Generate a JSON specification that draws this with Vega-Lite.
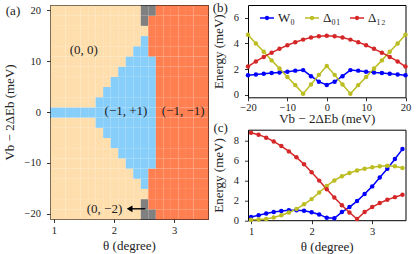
{
"$schema": "https://vega.github.io/schema/vega-lite/v6.json",
"padding": {"left": 2, "top": 1, "right": 0, "bottom": 0},
"config": {
  "font": "Liberation Serif",
  "view": {"stroke": "#000", "strokeWidth": 1},
  "axis": {"domain": false, "grid": false, "tickColor": "#000", "tickSize": 3.5, "tickWidth": 0.8, "labelFont": "Liberation Serif", "labelFontSize": 10.5, "labelColor": "#222", "titleFont": "Liberation Serif", "titleFontSize": 13, "titleFontWeight": "normal", "titleColor": "#222", "labelFlush": false, "labelOverlap": false},
  "axisX": {"labelPadding": 3, "titlePadding": 3},
  "axisY": {"labelPadding": 6, "titlePadding": 8},
  "legend": {"labelFont": "Liberation Serif"},
  "text": {"font": "Liberation Serif", "fontSize": 13, "color": "#222"}
},
"datasets": {
  "phase": [
{"t":1,"v":-20,"p":"N"},{"t":1,"v":-18,"p":"N"},{"t":1,"v":-16,"p":"N"},{"t":1,"v":-14,"p":"N"},{"t":1,"v":-12,"p":"N"},{"t":1,"v":-10,"p":"N"},{"t":1,"v":-8,"p":"N"},{"t":1,"v":-6,"p":"N"},{"t":1,"v":-4,"p":"N"},{"t":1,"v":-2,"p":"N"},{"t":1,"v":0,"p":"B"},{"t":1,"v":2,"p":"N"},{"t":1,"v":4,"p":"N"},{"t":1,"v":6,"p":"N"},{"t":1,"v":8,"p":"N"},{"t":1,"v":10,"p":"N"},{"t":1,"v":12,"p":"N"},{"t":1,"v":14,"p":"N"},{"t":1,"v":16,"p":"N"},{"t":1,"v":18,"p":"N"},{"t":1,"v":20,"p":"N"},
{"t":1.125,"v":-20,"p":"N"},{"t":1.125,"v":-18,"p":"N"},{"t":1.125,"v":-16,"p":"N"},{"t":1.125,"v":-14,"p":"N"},{"t":1.125,"v":-12,"p":"N"},{"t":1.125,"v":-10,"p":"N"},{"t":1.125,"v":-8,"p":"N"},{"t":1.125,"v":-6,"p":"N"},{"t":1.125,"v":-4,"p":"N"},{"t":1.125,"v":-2,"p":"N"},{"t":1.125,"v":0,"p":"B"},{"t":1.125,"v":2,"p":"N"},{"t":1.125,"v":4,"p":"N"},{"t":1.125,"v":6,"p":"N"},{"t":1.125,"v":8,"p":"N"},{"t":1.125,"v":10,"p":"N"},{"t":1.125,"v":12,"p":"N"},{"t":1.125,"v":14,"p":"N"},{"t":1.125,"v":16,"p":"N"},{"t":1.125,"v":18,"p":"N"},{"t":1.125,"v":20,"p":"N"},
{"t":1.25,"v":-20,"p":"N"},{"t":1.25,"v":-18,"p":"N"},{"t":1.25,"v":-16,"p":"N"},{"t":1.25,"v":-14,"p":"N"},{"t":1.25,"v":-12,"p":"N"},{"t":1.25,"v":-10,"p":"N"},{"t":1.25,"v":-8,"p":"N"},{"t":1.25,"v":-6,"p":"N"},{"t":1.25,"v":-4,"p":"N"},{"t":1.25,"v":-2,"p":"N"},{"t":1.25,"v":0,"p":"B"},{"t":1.25,"v":2,"p":"N"},{"t":1.25,"v":4,"p":"N"},{"t":1.25,"v":6,"p":"N"},{"t":1.25,"v":8,"p":"N"},{"t":1.25,"v":10,"p":"N"},{"t":1.25,"v":12,"p":"N"},{"t":1.25,"v":14,"p":"N"},{"t":1.25,"v":16,"p":"N"},{"t":1.25,"v":18,"p":"N"},{"t":1.25,"v":20,"p":"N"},
{"t":1.375,"v":-20,"p":"N"},{"t":1.375,"v":-18,"p":"N"},{"t":1.375,"v":-16,"p":"N"},{"t":1.375,"v":-14,"p":"N"},{"t":1.375,"v":-12,"p":"N"},{"t":1.375,"v":-10,"p":"N"},{"t":1.375,"v":-8,"p":"N"},{"t":1.375,"v":-6,"p":"N"},{"t":1.375,"v":-4,"p":"N"},{"t":1.375,"v":-2,"p":"N"},{"t":1.375,"v":0,"p":"B"},{"t":1.375,"v":2,"p":"N"},{"t":1.375,"v":4,"p":"N"},{"t":1.375,"v":6,"p":"N"},{"t":1.375,"v":8,"p":"N"},{"t":1.375,"v":10,"p":"N"},{"t":1.375,"v":12,"p":"N"},{"t":1.375,"v":14,"p":"N"},{"t":1.375,"v":16,"p":"N"},{"t":1.375,"v":18,"p":"N"},{"t":1.375,"v":20,"p":"N"},
{"t":1.5,"v":-20,"p":"N"},{"t":1.5,"v":-18,"p":"N"},{"t":1.5,"v":-16,"p":"N"},{"t":1.5,"v":-14,"p":"N"},{"t":1.5,"v":-12,"p":"N"},{"t":1.5,"v":-10,"p":"N"},{"t":1.5,"v":-8,"p":"N"},{"t":1.5,"v":-6,"p":"N"},{"t":1.5,"v":-4,"p":"N"},{"t":1.5,"v":-2,"p":"N"},{"t":1.5,"v":0,"p":"B"},{"t":1.5,"v":2,"p":"N"},{"t":1.5,"v":4,"p":"N"},{"t":1.5,"v":6,"p":"N"},{"t":1.5,"v":8,"p":"N"},{"t":1.5,"v":10,"p":"N"},{"t":1.5,"v":12,"p":"N"},{"t":1.5,"v":14,"p":"N"},{"t":1.5,"v":16,"p":"N"},{"t":1.5,"v":18,"p":"N"},{"t":1.5,"v":20,"p":"N"},
{"t":1.625,"v":-20,"p":"N"},{"t":1.625,"v":-18,"p":"N"},{"t":1.625,"v":-16,"p":"N"},{"t":1.625,"v":-14,"p":"N"},{"t":1.625,"v":-12,"p":"N"},{"t":1.625,"v":-10,"p":"N"},{"t":1.625,"v":-8,"p":"N"},{"t":1.625,"v":-6,"p":"N"},{"t":1.625,"v":-4,"p":"N"},{"t":1.625,"v":-2,"p":"N"},{"t":1.625,"v":0,"p":"B"},{"t":1.625,"v":2,"p":"N"},{"t":1.625,"v":4,"p":"N"},{"t":1.625,"v":6,"p":"N"},{"t":1.625,"v":8,"p":"N"},{"t":1.625,"v":10,"p":"N"},{"t":1.625,"v":12,"p":"N"},{"t":1.625,"v":14,"p":"N"},{"t":1.625,"v":16,"p":"N"},{"t":1.625,"v":18,"p":"N"},{"t":1.625,"v":20,"p":"N"},
{"t":1.75,"v":-20,"p":"N"},{"t":1.75,"v":-18,"p":"N"},{"t":1.75,"v":-16,"p":"N"},{"t":1.75,"v":-14,"p":"N"},{"t":1.75,"v":-12,"p":"N"},{"t":1.75,"v":-10,"p":"N"},{"t":1.75,"v":-8,"p":"N"},{"t":1.75,"v":-6,"p":"N"},{"t":1.75,"v":-4,"p":"N"},{"t":1.75,"v":-2,"p":"B"},{"t":1.75,"v":0,"p":"B"},{"t":1.75,"v":2,"p":"B"},{"t":1.75,"v":4,"p":"N"},{"t":1.75,"v":6,"p":"N"},{"t":1.75,"v":8,"p":"N"},{"t":1.75,"v":10,"p":"N"},{"t":1.75,"v":12,"p":"N"},{"t":1.75,"v":14,"p":"N"},{"t":1.75,"v":16,"p":"N"},{"t":1.75,"v":18,"p":"N"},{"t":1.75,"v":20,"p":"N"},
{"t":1.875,"v":-20,"p":"N"},{"t":1.875,"v":-18,"p":"N"},{"t":1.875,"v":-16,"p":"N"},{"t":1.875,"v":-14,"p":"N"},{"t":1.875,"v":-12,"p":"N"},{"t":1.875,"v":-10,"p":"N"},{"t":1.875,"v":-8,"p":"N"},{"t":1.875,"v":-6,"p":"N"},{"t":1.875,"v":-4,"p":"B"},{"t":1.875,"v":-2,"p":"B"},{"t":1.875,"v":0,"p":"B"},{"t":1.875,"v":2,"p":"B"},{"t":1.875,"v":4,"p":"B"},{"t":1.875,"v":6,"p":"N"},{"t":1.875,"v":8,"p":"N"},{"t":1.875,"v":10,"p":"N"},{"t":1.875,"v":12,"p":"N"},{"t":1.875,"v":14,"p":"N"},{"t":1.875,"v":16,"p":"N"},{"t":1.875,"v":18,"p":"N"},{"t":1.875,"v":20,"p":"N"},
{"t":2,"v":-20,"p":"N"},{"t":2,"v":-18,"p":"N"},{"t":2,"v":-16,"p":"N"},{"t":2,"v":-14,"p":"N"},{"t":2,"v":-12,"p":"N"},{"t":2,"v":-10,"p":"N"},{"t":2,"v":-8,"p":"N"},{"t":2,"v":-6,"p":"B"},{"t":2,"v":-4,"p":"B"},{"t":2,"v":-2,"p":"B"},{"t":2,"v":0,"p":"B"},{"t":2,"v":2,"p":"B"},{"t":2,"v":4,"p":"B"},{"t":2,"v":6,"p":"B"},{"t":2,"v":8,"p":"N"},{"t":2,"v":10,"p":"N"},{"t":2,"v":12,"p":"N"},{"t":2,"v":14,"p":"N"},{"t":2,"v":16,"p":"N"},{"t":2,"v":18,"p":"N"},{"t":2,"v":20,"p":"N"},
{"t":2.125,"v":-20,"p":"N"},{"t":2.125,"v":-18,"p":"N"},{"t":2.125,"v":-16,"p":"N"},{"t":2.125,"v":-14,"p":"N"},{"t":2.125,"v":-12,"p":"N"},{"t":2.125,"v":-10,"p":"N"},{"t":2.125,"v":-8,"p":"B"},{"t":2.125,"v":-6,"p":"B"},{"t":2.125,"v":-4,"p":"B"},{"t":2.125,"v":-2,"p":"B"},{"t":2.125,"v":0,"p":"B"},{"t":2.125,"v":2,"p":"B"},{"t":2.125,"v":4,"p":"B"},{"t":2.125,"v":6,"p":"B"},{"t":2.125,"v":8,"p":"B"},{"t":2.125,"v":10,"p":"N"},{"t":2.125,"v":12,"p":"N"},{"t":2.125,"v":14,"p":"N"},{"t":2.125,"v":16,"p":"N"},{"t":2.125,"v":18,"p":"N"},{"t":2.125,"v":20,"p":"N"},
{"t":2.25,"v":-20,"p":"N"},{"t":2.25,"v":-18,"p":"N"},{"t":2.25,"v":-16,"p":"N"},{"t":2.25,"v":-14,"p":"N"},{"t":2.25,"v":-12,"p":"N"},{"t":2.25,"v":-10,"p":"B"},{"t":2.25,"v":-8,"p":"B"},{"t":2.25,"v":-6,"p":"B"},{"t":2.25,"v":-4,"p":"B"},{"t":2.25,"v":-2,"p":"B"},{"t":2.25,"v":0,"p":"B"},{"t":2.25,"v":2,"p":"B"},{"t":2.25,"v":4,"p":"B"},{"t":2.25,"v":6,"p":"B"},{"t":2.25,"v":8,"p":"B"},{"t":2.25,"v":10,"p":"B"},{"t":2.25,"v":12,"p":"N"},{"t":2.25,"v":14,"p":"N"},{"t":2.25,"v":16,"p":"N"},{"t":2.25,"v":18,"p":"N"},{"t":2.25,"v":20,"p":"N"},
{"t":2.375,"v":-20,"p":"N"},{"t":2.375,"v":-18,"p":"N"},{"t":2.375,"v":-16,"p":"N"},{"t":2.375,"v":-14,"p":"N"},{"t":2.375,"v":-12,"p":"B"},{"t":2.375,"v":-10,"p":"B"},{"t":2.375,"v":-8,"p":"B"},{"t":2.375,"v":-6,"p":"B"},{"t":2.375,"v":-4,"p":"B"},{"t":2.375,"v":-2,"p":"B"},{"t":2.375,"v":0,"p":"B"},{"t":2.375,"v":2,"p":"B"},{"t":2.375,"v":4,"p":"B"},{"t":2.375,"v":6,"p":"B"},{"t":2.375,"v":8,"p":"B"},{"t":2.375,"v":10,"p":"B"},{"t":2.375,"v":12,"p":"B"},{"t":2.375,"v":14,"p":"N"},{"t":2.375,"v":16,"p":"N"},{"t":2.375,"v":18,"p":"N"},{"t":2.375,"v":20,"p":"N"},
{"t":2.5,"v":-20,"p":"G"},{"t":2.5,"v":-18,"p":"G"},{"t":2.5,"v":-16,"p":"N"},{"t":2.5,"v":-14,"p":"B"},{"t":2.5,"v":-12,"p":"B"},{"t":2.5,"v":-10,"p":"B"},{"t":2.5,"v":-8,"p":"B"},{"t":2.5,"v":-6,"p":"B"},{"t":2.5,"v":-4,"p":"B"},{"t":2.5,"v":-2,"p":"B"},{"t":2.5,"v":0,"p":"B"},{"t":2.5,"v":2,"p":"B"},{"t":2.5,"v":4,"p":"B"},{"t":2.5,"v":6,"p":"B"},{"t":2.5,"v":8,"p":"B"},{"t":2.5,"v":10,"p":"B"},{"t":2.5,"v":12,"p":"B"},{"t":2.5,"v":14,"p":"B"},{"t":2.5,"v":16,"p":"N"},{"t":2.5,"v":18,"p":"G"},{"t":2.5,"v":20,"p":"G"},
{"t":2.625,"v":-20,"p":"G"},{"t":2.625,"v":-18,"p":"R"},{"t":2.625,"v":-16,"p":"R"},{"t":2.625,"v":-14,"p":"R"},{"t":2.625,"v":-12,"p":"R"},{"t":2.625,"v":-10,"p":"B"},{"t":2.625,"v":-8,"p":"B"},{"t":2.625,"v":-6,"p":"B"},{"t":2.625,"v":-4,"p":"B"},{"t":2.625,"v":-2,"p":"B"},{"t":2.625,"v":0,"p":"B"},{"t":2.625,"v":2,"p":"B"},{"t":2.625,"v":4,"p":"B"},{"t":2.625,"v":6,"p":"B"},{"t":2.625,"v":8,"p":"B"},{"t":2.625,"v":10,"p":"B"},{"t":2.625,"v":12,"p":"R"},{"t":2.625,"v":14,"p":"R"},{"t":2.625,"v":16,"p":"R"},{"t":2.625,"v":18,"p":"R"},{"t":2.625,"v":20,"p":"G"},
{"t":2.75,"v":-20,"p":"R"},{"t":2.75,"v":-18,"p":"R"},{"t":2.75,"v":-16,"p":"R"},{"t":2.75,"v":-14,"p":"R"},{"t":2.75,"v":-12,"p":"R"},{"t":2.75,"v":-10,"p":"R"},{"t":2.75,"v":-8,"p":"R"},{"t":2.75,"v":-6,"p":"R"},{"t":2.75,"v":-4,"p":"R"},{"t":2.75,"v":-2,"p":"R"},{"t":2.75,"v":0,"p":"R"},{"t":2.75,"v":2,"p":"R"},{"t":2.75,"v":4,"p":"R"},{"t":2.75,"v":6,"p":"R"},{"t":2.75,"v":8,"p":"R"},{"t":2.75,"v":10,"p":"R"},{"t":2.75,"v":12,"p":"R"},{"t":2.75,"v":14,"p":"R"},{"t":2.75,"v":16,"p":"R"},{"t":2.75,"v":18,"p":"R"},{"t":2.75,"v":20,"p":"R"},
{"t":2.875,"v":-20,"p":"R"},{"t":2.875,"v":-18,"p":"R"},{"t":2.875,"v":-16,"p":"R"},{"t":2.875,"v":-14,"p":"R"},{"t":2.875,"v":-12,"p":"R"},{"t":2.875,"v":-10,"p":"R"},{"t":2.875,"v":-8,"p":"R"},{"t":2.875,"v":-6,"p":"R"},{"t":2.875,"v":-4,"p":"R"},{"t":2.875,"v":-2,"p":"R"},{"t":2.875,"v":0,"p":"R"},{"t":2.875,"v":2,"p":"R"},{"t":2.875,"v":4,"p":"R"},{"t":2.875,"v":6,"p":"R"},{"t":2.875,"v":8,"p":"R"},{"t":2.875,"v":10,"p":"R"},{"t":2.875,"v":12,"p":"R"},{"t":2.875,"v":14,"p":"R"},{"t":2.875,"v":16,"p":"R"},{"t":2.875,"v":18,"p":"R"},{"t":2.875,"v":20,"p":"R"},
{"t":3,"v":-20,"p":"R"},{"t":3,"v":-18,"p":"R"},{"t":3,"v":-16,"p":"R"},{"t":3,"v":-14,"p":"R"},{"t":3,"v":-12,"p":"R"},{"t":3,"v":-10,"p":"R"},{"t":3,"v":-8,"p":"R"},{"t":3,"v":-6,"p":"R"},{"t":3,"v":-4,"p":"R"},{"t":3,"v":-2,"p":"R"},{"t":3,"v":0,"p":"R"},{"t":3,"v":2,"p":"R"},{"t":3,"v":4,"p":"R"},{"t":3,"v":6,"p":"R"},{"t":3,"v":8,"p":"R"},{"t":3,"v":10,"p":"R"},{"t":3,"v":12,"p":"R"},{"t":3,"v":14,"p":"R"},{"t":3,"v":16,"p":"R"},{"t":3,"v":18,"p":"R"},{"t":3,"v":20,"p":"R"},
{"t":3.125,"v":-20,"p":"R"},{"t":3.125,"v":-18,"p":"R"},{"t":3.125,"v":-16,"p":"R"},{"t":3.125,"v":-14,"p":"R"},{"t":3.125,"v":-12,"p":"R"},{"t":3.125,"v":-10,"p":"R"},{"t":3.125,"v":-8,"p":"R"},{"t":3.125,"v":-6,"p":"R"},{"t":3.125,"v":-4,"p":"R"},{"t":3.125,"v":-2,"p":"R"},{"t":3.125,"v":0,"p":"R"},{"t":3.125,"v":2,"p":"R"},{"t":3.125,"v":4,"p":"R"},{"t":3.125,"v":6,"p":"R"},{"t":3.125,"v":8,"p":"R"},{"t":3.125,"v":10,"p":"R"},{"t":3.125,"v":12,"p":"R"},{"t":3.125,"v":14,"p":"R"},{"t":3.125,"v":16,"p":"R"},{"t":3.125,"v":18,"p":"R"},{"t":3.125,"v":20,"p":"R"},
{"t":3.25,"v":-20,"p":"R"},{"t":3.25,"v":-18,"p":"R"},{"t":3.25,"v":-16,"p":"R"},{"t":3.25,"v":-14,"p":"R"},{"t":3.25,"v":-12,"p":"R"},{"t":3.25,"v":-10,"p":"R"},{"t":3.25,"v":-8,"p":"R"},{"t":3.25,"v":-6,"p":"R"},{"t":3.25,"v":-4,"p":"R"},{"t":3.25,"v":-2,"p":"R"},{"t":3.25,"v":0,"p":"R"},{"t":3.25,"v":2,"p":"R"},{"t":3.25,"v":4,"p":"R"},{"t":3.25,"v":6,"p":"R"},{"t":3.25,"v":8,"p":"R"},{"t":3.25,"v":10,"p":"R"},{"t":3.25,"v":12,"p":"R"},{"t":3.25,"v":14,"p":"R"},{"t":3.25,"v":16,"p":"R"},{"t":3.25,"v":18,"p":"R"},{"t":3.25,"v":20,"p":"R"},
{"t":3.375,"v":-20,"p":"R"},{"t":3.375,"v":-18,"p":"R"},{"t":3.375,"v":-16,"p":"R"},{"t":3.375,"v":-14,"p":"R"},{"t":3.375,"v":-12,"p":"R"},{"t":3.375,"v":-10,"p":"R"},{"t":3.375,"v":-8,"p":"R"},{"t":3.375,"v":-6,"p":"R"},{"t":3.375,"v":-4,"p":"R"},{"t":3.375,"v":-2,"p":"R"},{"t":3.375,"v":0,"p":"R"},{"t":3.375,"v":2,"p":"R"},{"t":3.375,"v":4,"p":"R"},{"t":3.375,"v":6,"p":"R"},{"t":3.375,"v":8,"p":"R"},{"t":3.375,"v":10,"p":"R"},{"t":3.375,"v":12,"p":"R"},{"t":3.375,"v":14,"p":"R"},{"t":3.375,"v":16,"p":"R"},{"t":3.375,"v":18,"p":"R"},{"t":3.375,"v":20,"p":"R"},
{"t":3.5,"v":-20,"p":"R"},{"t":3.5,"v":-18,"p":"R"},{"t":3.5,"v":-16,"p":"R"},{"t":3.5,"v":-14,"p":"R"},{"t":3.5,"v":-12,"p":"R"},{"t":3.5,"v":-10,"p":"R"},{"t":3.5,"v":-8,"p":"R"},{"t":3.5,"v":-6,"p":"R"},{"t":3.5,"v":-4,"p":"R"},{"t":3.5,"v":-2,"p":"R"},{"t":3.5,"v":0,"p":"R"},{"t":3.5,"v":2,"p":"R"},{"t":3.5,"v":4,"p":"R"},{"t":3.5,"v":6,"p":"R"},{"t":3.5,"v":8,"p":"R"},{"t":3.5,"v":10,"p":"R"},{"t":3.5,"v":12,"p":"R"},{"t":3.5,"v":14,"p":"R"},{"t":3.5,"v":16,"p":"R"},{"t":3.5,"v":18,"p":"R"},{"t":3.5,"v":20,"p":"R"}
  ],
  "bdata": [
{"x":-20,"s":"W₀","e":1.52},{"x":-18,"s":"W₀","e":1.58},{"x":-16,"s":"W₀","e":1.64},{"x":-14,"s":"W₀","e":1.69},{"x":-12,"s":"W₀","e":1.74},{"x":-10,"s":"W₀","e":1.8},{"x":-8,"s":"W₀","e":1.88},{"x":-6,"s":"W₀","e":1.92},{"x":-4,"s":"W₀","e":1.45},{"x":-2,"s":"W₀","e":1.02},{"x":0,"s":"W₀","e":0.76},{"x":2,"s":"W₀","e":1.02},{"x":4,"s":"W₀","e":1.45},{"x":6,"s":"W₀","e":1.92},{"x":8,"s":"W₀","e":1.88},{"x":10,"s":"W₀","e":1.8},{"x":12,"s":"W₀","e":1.74},{"x":14,"s":"W₀","e":1.69},{"x":16,"s":"W₀","e":1.64},{"x":18,"s":"W₀","e":1.58},{"x":20,"s":"W₀","e":1.52},
{"x":-20,"s":"Δ₀₁","e":4.68},{"x":-18,"s":"Δ₀₁","e":4.0},{"x":-16,"s":"Δ₀₁","e":3.35},{"x":-14,"s":"Δ₀₁","e":2.68},{"x":-12,"s":"Δ₀₁","e":2.04},{"x":-10,"s":"Δ₀₁","e":1.38},{"x":-8,"s":"Δ₀₁","e":0.75},{"x":-6,"s":"Δ₀₁","e":0.08},{"x":-4,"s":"Δ₀₁","e":0.8},{"x":-2,"s":"Δ₀₁","e":1.55},{"x":0,"s":"Δ₀₁","e":2.25},{"x":2,"s":"Δ₀₁","e":1.55},{"x":4,"s":"Δ₀₁","e":0.8},{"x":6,"s":"Δ₀₁","e":0.08},{"x":8,"s":"Δ₀₁","e":0.75},{"x":10,"s":"Δ₀₁","e":1.38},{"x":12,"s":"Δ₀₁","e":2.04},{"x":14,"s":"Δ₀₁","e":2.68},{"x":16,"s":"Δ₀₁","e":3.35},{"x":18,"s":"Δ₀₁","e":4.0},{"x":20,"s":"Δ₀₁","e":4.68},
{"x":-20,"s":"Δ₁₂","e":2.2},{"x":-18,"s":"Δ₁₂","e":2.6},{"x":-16,"s":"Δ₁₂","e":2.95},{"x":-14,"s":"Δ₁₂","e":3.28},{"x":-12,"s":"Δ₁₂","e":3.58},{"x":-10,"s":"Δ₁₂","e":3.86},{"x":-8,"s":"Δ₁₂","e":4.1},{"x":-6,"s":"Δ₁₂","e":4.3},{"x":-4,"s":"Δ₁₂","e":4.46},{"x":-2,"s":"Δ₁₂","e":4.57},{"x":0,"s":"Δ₁₂","e":4.6},{"x":2,"s":"Δ₁₂","e":4.57},{"x":4,"s":"Δ₁₂","e":4.46},{"x":6,"s":"Δ₁₂","e":4.3},{"x":8,"s":"Δ₁₂","e":4.1},{"x":10,"s":"Δ₁₂","e":3.86},{"x":12,"s":"Δ₁₂","e":3.58},{"x":14,"s":"Δ₁₂","e":3.28},{"x":16,"s":"Δ₁₂","e":2.95},{"x":18,"s":"Δ₁₂","e":2.6},{"x":20,"s":"Δ₁₂","e":2.2}
  ],
  "cdata": [
{"x":1,"s":"W₀","e":0.32},{"x":1.125,"s":"W₀","e":0.5},{"x":1.25,"s":"W₀","e":0.68},{"x":1.375,"s":"W₀","e":0.82},{"x":1.5,"s":"W₀","e":0.93},{"x":1.625,"s":"W₀","e":0.99},{"x":1.75,"s":"W₀","e":0.99},{"x":1.875,"s":"W₀","e":0.94},{"x":2,"s":"W₀","e":0.8},{"x":2.125,"s":"W₀","e":0.58},{"x":2.25,"s":"W₀","e":0.24},{"x":2.375,"s":"W₀","e":0.2},{"x":2.5,"s":"W₀","e":0.82},{"x":2.625,"s":"W₀","e":1.32},{"x":2.75,"s":"W₀","e":1.92},{"x":2.875,"s":"W₀","e":2.63},{"x":3,"s":"W₀","e":3.4},{"x":3.125,"s":"W₀","e":4.3},{"x":3.25,"s":"W₀","e":5.18},{"x":3.375,"s":"W₀","e":6.15},{"x":3.5,"s":"W₀","e":7.15},
{"x":1,"s":"Δ₀₁","e":0.05},{"x":1.125,"s":"Δ₀₁","e":0.06},{"x":1.25,"s":"Δ₀₁","e":0.13},{"x":1.375,"s":"Δ₀₁","e":0.28},{"x":1.5,"s":"Δ₀₁","e":0.5},{"x":1.625,"s":"Δ₀₁","e":0.78},{"x":1.75,"s":"Δ₀₁","e":1.12},{"x":1.875,"s":"Δ₀₁","e":1.6},{"x":2,"s":"Δ₀₁","e":2.12},{"x":2.125,"s":"Δ₀₁","e":2.78},{"x":2.25,"s":"Δ₀₁","e":3.45},{"x":2.375,"s":"Δ₀₁","e":4.0},{"x":2.5,"s":"Δ₀₁","e":4.42},{"x":2.625,"s":"Δ₀₁","e":4.75},{"x":2.75,"s":"Δ₀₁","e":5.0},{"x":2.875,"s":"Δ₀₁","e":5.18},{"x":3,"s":"Δ₀₁","e":5.32},{"x":3.125,"s":"Δ₀₁","e":5.42},{"x":3.25,"s":"Δ₀₁","e":5.47},{"x":3.375,"s":"Δ₀₁","e":5.42},{"x":3.5,"s":"Δ₀₁","e":5.25},
{"x":1,"s":"Δ₁₂","e":8.8},{"x":1.125,"s":"Δ₁₂","e":8.6},{"x":1.25,"s":"Δ₁₂","e":8.3},{"x":1.375,"s":"Δ₁₂","e":7.92},{"x":1.5,"s":"Δ₁₂","e":7.45},{"x":1.625,"s":"Δ₁₂","e":6.92},{"x":1.75,"s":"Δ₁₂","e":6.32},{"x":1.875,"s":"Δ₁₂","e":5.62},{"x":2,"s":"Δ₁₂","e":4.82},{"x":2.125,"s":"Δ₁₂","e":3.98},{"x":2.25,"s":"Δ₁₂","e":3.12},{"x":2.375,"s":"Δ₁₂","e":2.28},{"x":2.5,"s":"Δ₁₂","e":1.5},{"x":2.625,"s":"Δ₁₂","e":0.78},{"x":2.75,"s":"Δ₁₂","e":0.12},{"x":2.875,"s":"Δ₁₂","e":0.82},{"x":3,"s":"Δ₁₂","e":1.32},{"x":3.125,"s":"Δ₁₂","e":1.72},{"x":3.25,"s":"Δ₁₂","e":2.05},{"x":3.375,"s":"Δ₁₂","e":2.32},{"x":3.5,"s":"Δ₁₂","e":2.55}
  ]
},
"hconcat": [
  {
    "width": 158, "height": 214,
    "layer": [
      {
        "data": {"name": "phase"},
        "mark": {"type": "rect", "binSpacing": 0},
        "encoding": {
          "x": {"field": "t", "type": "quantitative", "bin": {"step": 0.125, "extent": [0.9375, 3.5625], "nice": false}, "scale": {"domain": [0.9375, 3.5625], "nice": false, "zero": false}, "axis": {"values": [1, 2, 3], "title": "θ (degree)", "format": "d"}},
          "y": {"field": "v", "type": "quantitative", "bin": {"step": 2, "extent": [-21, 21], "nice": false}, "scale": {"domain": [-21, 21], "nice": false, "zero": false}, "axis": {"values": [-20, -10, 0, 10, 20], "title": "Vb − 2ΔEb (meV)", "format": "d"}},
          "color": {"field": "p", "type": "nominal", "scale": {"domain": ["N", "B", "R", "G"], "range": ["#FFDEAD", "#87CEFA", "#FF7F50", "#808080"]}, "legend": null}
        }
      },
      {
        "data": {"values": [
          {"t": 1.5, "v": 12.2, "lab": "(0, 0)"},
          {"t": 2.2, "v": 0.1, "lab": "(−1, +1)"},
          {"t": 3.15, "v": 0.1, "lab": "(−1, −1)"},
          {"t": 1.843, "v": -19, "lab": "(0, −2)"},
          {"t": 0.323, "v": 19.8, "lab": "(a)"}
        ]},
        "mark": {"type": "text"},
        "encoding": {
          "x": {"field": "t", "type": "quantitative", "axis": {"values": [1, 2, 3], "title": "θ (degree)", "format": "d"}},
          "y": {"field": "v", "type": "quantitative", "axis": {"values": [-20, -10, 0, 10, 20], "title": "Vb − 2ΔEb (meV)", "format": "d"}},
          "text": {"field": "lab"}
        }
      },
      {
        "data": {"values": [{"t": 2.521, "t2": 2.28, "v": -19}]},
        "mark": {"type": "rule", "color": "#000", "strokeWidth": 1.4},
        "encoding": {
          "x": {"field": "t", "type": "quantitative", "axis": {"values": [1, 2, 3], "title": "θ (degree)", "format": "d"}},
          "x2": {"field": "t2"},
          "y": {"field": "v", "type": "quantitative", "axis": {"values": [-20, -10, 0, 10, 20], "title": "Vb − 2ΔEb (meV)", "format": "d"}}
        }
      },
      {
        "data": {"values": [{"t": 2.26, "v": -19}]},
        "mark": {"type": "point", "shape": "triangle-left", "filled": true, "color": "#000", "size": 45, "opacity": 1},
        "encoding": {
          "x": {"field": "t", "type": "quantitative", "axis": {"values": [1, 2, 3], "title": "θ (degree)", "format": "d"}},
          "y": {"field": "v", "type": "quantitative", "axis": {"values": [-20, -10, 0, 10, 20], "title": "Vb − 2ΔEb (meV)", "format": "d"}}
        }
      }
    ]
  },
  {
    "vconcat": [
      {
        "width": 157.5, "height": 92.3,
        "encoding": {
          "x": {"field": "x", "type": "quantitative", "scale": {"domain": [-20, 20], "nice": false, "zero": false}, "axis": {"values": [-20, -10, 0, 10, 20], "title": "Vb − 2ΔEb (meV)", "labelPadding": 1.5, "titlePadding": 0}},
          "y": {"field": "e", "type": "quantitative", "scale": {"domain": [-0.2, 7], "nice": false, "zero": false}, "axis": {"values": [0, 2, 4, 6], "title": "Energy (meV)"}}
        },
        "layer": [
          {
            "data": {"name": "bdata"},
            "mark": {"type": "line", "strokeWidth": 1.5, "point": {"filled": true, "size": 20}},
            "encoding": {
              "color": {"field": "s", "type": "nominal", "scale": {"domain": ["W₀", "Δ₀₁", "Δ₁₂"], "range": ["#0000ff", "#bcbd22", "#d62728"]},
                "legend": {"orient": "none", "legendX": 11, "legendY": 5, "direction": "horizontal", "columns": 3, "gridAlign": "all", "columnPadding": 6, "title": null, "padding": 0,
                  "symbolType": "M-1,0L1,0M-0.2,0A0.2,0.2,0,1,0,0.2,0A0.2,0.2,0,1,0,-0.2,0M-0.07,0A0.07,0.07,0,1,0,0.07,0A0.07,0.07,0,1,0,-0.07,0",
                  "symbolSize": 196, "symbolStrokeWidth": 1.5, "labelFontSize": 13, "labelColor": "#222", "labelOffset": 3}}
            }
          },
          {
            "data": {"values": [{"x": -27.05, "e": 6.73, "lab": "(b)"}]},
            "mark": {"type": "text"},
            "encoding": {"text": {"field": "lab"}}
          }
        ]
      },
      {
        "width": 157.5, "height": 90.5,
        "encoding": {
          "x": {"field": "x", "type": "quantitative", "scale": {"domain": [0.95, 3.55], "nice": false, "zero": false}, "axis": {"values": [1, 2, 3], "title": "θ (degree)", "format": "d"}},
          "y": {"field": "e", "type": "quantitative", "scale": {"domain": [0, 9.1], "nice": false, "zero": false}, "axis": {"values": [0, 2, 4, 6, 8], "title": "Energy (meV)"}}
        },
        "layer": [
          {
            "data": {"name": "cdata"},
            "mark": {"type": "line", "strokeWidth": 1.5, "point": {"filled": true, "size": 20}},
            "encoding": {
              "color": {"field": "s", "type": "nominal", "scale": {"domain": ["W₀", "Δ₀₁", "Δ₁₂"], "range": ["#0000ff", "#bcbd22", "#d62728"]}, "legend": null}
            }
          },
          {
            "data": {"values": [{"x": 0.5, "e": 9.24, "lab": "(c)"}]},
            "mark": {"type": "text"},
            "encoding": {"text": {"field": "lab"}}
          }
        ]
      }
    ],
    "spacing": 31.7,
    "bounds": "flush",
    "resolve": {"scale": {"color": "independent"}}
  }
],
"spacing": 40,
"bounds": "flush",
"resolve": {"scale": {"color": "independent"}}
}
